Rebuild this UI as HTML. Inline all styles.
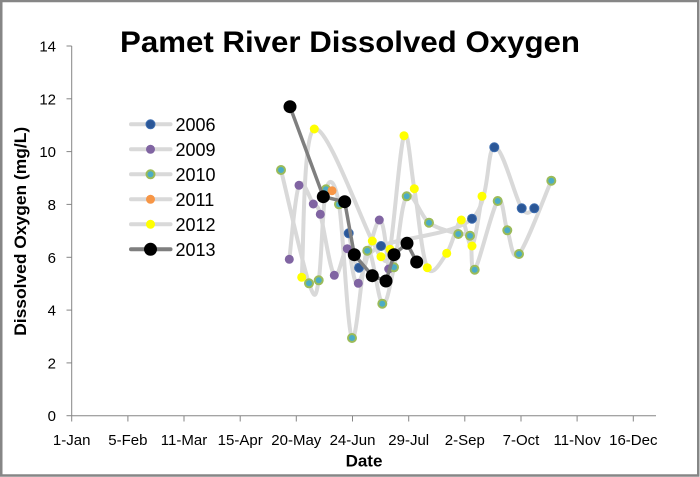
<!DOCTYPE html>
<html>
<head>
<meta charset="utf-8">
<style>
html,body{margin:0;padding:0;background:#fff;}
svg{display:block;}
text{font-family:"Liberation Sans",Arial,sans-serif;fill:#000;}
</style>
</head>
<body>
<svg width="700" height="477" viewBox="0 0 700 477" xmlns="http://www.w3.org/2000/svg">
<rect x="0" y="0" width="700" height="477" fill="#fff"/>
<rect x="1.25" y="1" width="697" height="474.5" fill="none" stroke="#868686" stroke-width="2.5"/>

<!-- Title -->
<text x="350" y="52" font-size="30" font-weight="bold" text-anchor="middle" textLength="460" lengthAdjust="spacingAndGlyphs">Pamet River Dissolved Oxygen</text>

<!-- Axes -->
<g stroke="#868686" stroke-width="1" fill="none">
<line x1="71.7" y1="46" x2="71.7" y2="415.7"/>
<line x1="71.7" y1="415.7" x2="656" y2="415.7"/>
<line x1="66.5" y1="46" x2="71.7" y2="46"/>
<line x1="66.5" y1="98.8" x2="71.7" y2="98.8"/>
<line x1="66.5" y1="151.6" x2="71.7" y2="151.6"/>
<line x1="66.5" y1="204.4" x2="71.7" y2="204.4"/>
<line x1="66.5" y1="257.3" x2="71.7" y2="257.3"/>
<line x1="66.5" y1="310.1" x2="71.7" y2="310.1"/>
<line x1="66.5" y1="362.9" x2="71.7" y2="362.9"/>
<line x1="66.5" y1="415.7" x2="71.7" y2="415.7"/>
<line x1="71.7" y1="415.7" x2="71.7" y2="421.5"/>
<line x1="127.9" y1="415.7" x2="127.9" y2="421.5"/>
<line x1="184.0" y1="415.7" x2="184.0" y2="421.5"/>
<line x1="240.2" y1="415.7" x2="240.2" y2="421.5"/>
<line x1="296.3" y1="415.7" x2="296.3" y2="421.5"/>
<line x1="352.5" y1="415.7" x2="352.5" y2="421.5"/>
<line x1="408.7" y1="415.7" x2="408.7" y2="421.5"/>
<line x1="464.8" y1="415.7" x2="464.8" y2="421.5"/>
<line x1="521.0" y1="415.7" x2="521.0" y2="421.5"/>
<line x1="577.1" y1="415.7" x2="577.1" y2="421.5"/>
<line x1="633.3" y1="415.7" x2="633.3" y2="421.5"/>
</g>

<!-- Y tick labels -->
<g font-size="15" text-anchor="end">
<text x="56" y="51.5">14</text>
<text x="56" y="104.3">12</text>
<text x="56" y="157.1">10</text>
<text x="56" y="209.9">8</text>
<text x="56" y="262.8">6</text>
<text x="56" y="315.6">4</text>
<text x="56" y="368.4">2</text>
<text x="56" y="421.2">0</text>
</g>

<!-- X tick labels -->
<g font-size="15" text-anchor="middle">
<text x="71.7" y="445">1-Jan</text>
<text x="127.9" y="445">5-Feb</text>
<text x="184.0" y="445">11-Mar</text>
<text x="240.2" y="445">15-Apr</text>
<text x="296.3" y="445">20-May</text>
<text x="352.5" y="445">24-Jun</text>
<text x="408.7" y="445">29-Jul</text>
<text x="464.8" y="445">2-Sep</text>
<text x="521.0" y="445">7-Oct</text>
<text x="577.1" y="445">11-Nov</text>
<text x="633.3" y="445">16-Dec</text>
</g>

<!-- Axis titles -->
<text x="364" y="466.5" font-size="17" font-weight="bold" text-anchor="middle">Date</text>
<text transform="translate(26,231.3) rotate(-90)" font-size="17" font-weight="bold" text-anchor="middle" textLength="209" lengthAdjust="spacingAndGlyphs">Dissolved Oxygen (mg/L)</text>

<!-- Series lines (light gray smoothed) -->
<g fill="none" stroke="#d9d9d9" stroke-width="4" stroke-linecap="round" stroke-linejoin="round">
<path d="M348.7,233.3 C350.4,239 353.6,265.6 359,267.7 C364.4,269.8 362.2,254.2 381,246 C399.8,237.8 453.1,235.2 472,218.7 C490.9,202.3 486,149 494.3,147.3 C502.6,145.6 515,198.1 521.7,208.3 C528.4,218.5 532.2,208.3 534.3,208.3"/>
<path d="M289.3,259.3 C290.9,247 295,194.5 299,185.3 C303,176.1 309.8,199.2 313.3,204 C316.9,208.8 316.8,202.4 320.3,214.3 C323.8,226.2 329.8,269.6 334.3,275.3 C338.8,281 343.3,247.4 347.3,248.7 C351.3,250 353,288.1 358.3,283.3 C363.6,278.5 374.2,222.4 379.3,220 C384.4,217.6 387.1,260.8 388.7,269"/>
<path d="M281,170 C285.7,188.9 302.7,264.9 309,283.3 C315.3,301.7 315.9,296 318.7,280.3 C321.5,264.6 322.6,202 326,189.3 C329.4,176.6 334.7,179.5 339,204.3 C343.3,229.1 347.3,330.3 352,338 C356.7,345.7 362.3,256.4 367.3,250.7 C372.4,245 377.9,300.9 382.3,303.7 C386.8,306.5 389.9,285.2 394,267.3 C398.1,249.4 400.9,203.7 406.7,196.3 C412.5,188.9 420.4,216.4 429,222.7 C437.6,229 451.5,231.8 458.3,234 C465.1,236.2 467.3,229.8 470,235.7 C472.7,241.7 470.1,275.5 474.7,269.7 C479.3,263.9 492.3,207.6 497.7,201 C503.1,194.4 503.8,221.5 507.3,230.3 C510.9,239.1 511.7,262.3 519,254 C526.3,245.7 545.9,192.9 551.3,180.7"/>
<path d="M301.7,277.3 C303.8,252.6 302.5,135.1 314.3,129 C326.1,123 361.2,219.7 372.3,241 C383.4,262.3 378.1,255.3 381,256.7 C383.9,258.1 386.2,269.5 390,249.3 C393.8,229.1 400,145.8 404,135.7 C408.1,125.6 410.4,166.7 414.3,188.7 C418.2,210.7 421.9,256.9 427.3,267.7 C432.7,278.5 441,261.3 446.7,253.3 C452.4,245.4 457.1,221.2 461.3,220 C465.5,218.8 468.6,250 472,246 C475.5,242.1 480.3,204.6 482,196.3"/>
</g>

<!-- 2006 markers -->
<g fill="#2b5797" stroke="#3d6db0" stroke-width="1">
<circle cx="348.7" cy="233.3" r="4.5"/>
<circle cx="359" cy="267.7" r="4.5"/>
<circle cx="381" cy="246" r="4.5"/>
<circle cx="472" cy="218.7" r="4.5"/>
<circle cx="494.3" cy="147.3" r="4.5"/>
<circle cx="521.7" cy="208.3" r="4.5"/>
<circle cx="534.3" cy="208.3" r="4.5"/>
</g>
<!-- 2009 markers -->
<g fill="#8064a2">
<circle cx="289.3" cy="259.3" r="4.5"/>
<circle cx="299" cy="185.3" r="4.5"/>
<circle cx="313.3" cy="204" r="4.5"/>
<circle cx="320.3" cy="214.3" r="4.5"/>
<circle cx="334.3" cy="275.3" r="4.5"/>
<circle cx="347.3" cy="248.7" r="4.5"/>
<circle cx="358.3" cy="283.3" r="4.5"/>
<circle cx="379.3" cy="220" r="4.5"/>
<circle cx="388.7" cy="269" r="4.5"/>
</g>
<!-- 2010 markers -->
<g fill="#4bacc6" stroke="#9bbb59" stroke-width="2">
<circle cx="281" cy="170" r="4"/>
<circle cx="309" cy="283.3" r="4"/>
<circle cx="318.7" cy="280.3" r="4"/>
<circle cx="326" cy="189.3" r="4"/>
<circle cx="339" cy="204.3" r="4"/>
<circle cx="352" cy="338" r="4"/>
<circle cx="367.3" cy="250.7" r="4"/>
<circle cx="382.3" cy="303.7" r="4"/>
<circle cx="394" cy="267.3" r="4"/>
<circle cx="406.7" cy="196.3" r="4"/>
<circle cx="429" cy="222.7" r="4"/>
<circle cx="458.3" cy="234" r="4"/>
<circle cx="470" cy="235.7" r="4"/>
<circle cx="474.7" cy="269.7" r="4"/>
<circle cx="497.7" cy="201" r="4"/>
<circle cx="507.3" cy="230.3" r="4"/>
<circle cx="519" cy="254" r="4"/>
<circle cx="551.3" cy="180.7" r="4"/>
</g>
<!-- 2011 marker -->
<circle cx="332" cy="190.7" r="4.5" fill="#f79646"/>
<!-- 2012 markers -->
<g fill="#ffff00">
<circle cx="301.7" cy="277.3" r="4.5"/>
<circle cx="314.3" cy="129" r="4.5"/>
<circle cx="372.3" cy="241" r="4.5"/>
<circle cx="381" cy="256.7" r="4.5"/>
<circle cx="390" cy="249.3" r="4.5"/>
<circle cx="404" cy="135.7" r="4.5"/>
<circle cx="414.3" cy="188.7" r="4.5"/>
<circle cx="427.3" cy="267.7" r="4.5"/>
<circle cx="446.7" cy="253.3" r="4.5"/>
<circle cx="461.3" cy="220" r="4.5"/>
<circle cx="472" cy="246" r="4.5"/>
<circle cx="482" cy="196.3" r="4.5"/>
</g>

<!-- 2013 -->
<path d="M290,106.7 L323.3,196.7 L344.7,201.7 L354.3,254.7 L372.3,275.7 L386,281 L394,254.7 L407,243.3 L416.7,262" fill="none" stroke="#7f7f7f" stroke-width="3.5" stroke-linejoin="round" stroke-linecap="round"/>
<g fill="#000">
<circle cx="290" cy="106.7" r="6.5"/>
<circle cx="323.3" cy="196.7" r="6.5"/>
<circle cx="344.7" cy="201.7" r="6.5"/>
<circle cx="354.3" cy="254.7" r="6.5"/>
<circle cx="372.3" cy="275.7" r="6.5"/>
<circle cx="386" cy="281" r="6.5"/>
<circle cx="394" cy="254.7" r="6.5"/>
<circle cx="407" cy="243.3" r="6.5"/>
<circle cx="416.7" cy="262" r="6.5"/>
</g>

<!-- Legend -->
<g stroke-linecap="round">
<line x1="131" y1="124.3" x2="170.5" y2="124.3" stroke="#d9d9d9" stroke-width="4"/>
<line x1="131" y1="149.3" x2="170.5" y2="149.3" stroke="#d9d9d9" stroke-width="4"/>
<line x1="131" y1="174.3" x2="170.5" y2="174.3" stroke="#d9d9d9" stroke-width="4"/>
<line x1="131" y1="199.3" x2="170.5" y2="199.3" stroke="#d9d9d9" stroke-width="4"/>
<line x1="131" y1="224.3" x2="170.5" y2="224.3" stroke="#d9d9d9" stroke-width="4"/>
<line x1="131" y1="249.3" x2="170.5" y2="249.3" stroke="#7f7f7f" stroke-width="4"/>
</g>
<circle cx="150.5" cy="124.3" r="4.5" fill="#2b5797" stroke="#3d6db0" stroke-width="1"/>
<circle cx="150.5" cy="149.3" r="4.5" fill="#8064a2"/>
<circle cx="150.5" cy="174.3" r="4" fill="#4bacc6" stroke="#9bbb59" stroke-width="2"/>
<circle cx="150.5" cy="199.3" r="4.5" fill="#f79646"/>
<circle cx="150.5" cy="224.3" r="4.5" fill="#ffff00"/>
<circle cx="150.5" cy="249.3" r="6.5" fill="#000"/>
<g font-size="18">
<text x="175.5" y="131">2006</text>
<text x="175.5" y="156">2009</text>
<text x="175.5" y="181">2010</text>
<text x="175.5" y="206">2011</text>
<text x="175.5" y="231">2012</text>
<text x="175.5" y="256">2013</text>
</g>
</svg>
</body>
</html>
